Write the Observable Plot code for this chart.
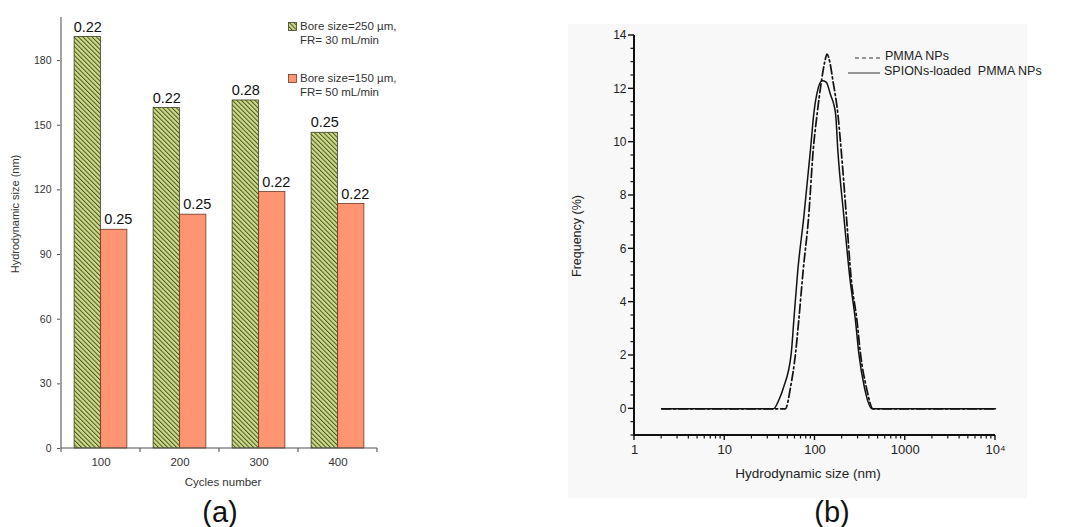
<!DOCTYPE html>
<html><head><meta charset="utf-8">
<script src="https://cdn.jsdelivr.net/npm/d3@7"></script>
<script src="https://cdn.jsdelivr.net/npm/@observablehq/plot@0.6"></script>
<style>
body{margin:0;background:#fff;font-family:"Liberation Sans",Arial,sans-serif;}
#wrap{position:relative;width:1068px;height:527px;overflow:hidden;background:#fff;}
.abs{position:absolute;white-space:nowrap;}
</style></head><body><div id="wrap"></div>
<script>
// ---------- Panel (a) data ----------
const cycles = [100, 200, 300, 400];
const sizeBore250 = [191, 158, 161.5, 146.5];
const sizeBore150 = [101.5, 108.5, 119, 113.5];
const pdiBore250 = ["0.22", "0.22", "0.28", "0.25"];
const pdiBore150 = ["0.25", "0.25", "0.22", "0.22"];
const yTicksA = [0, 30, 60, 90, 120, 150, 180];
const seriesA = ["Bore size=250 µm,|FR= 30 mL/min", "Bore size=150 µm,|FR= 50 mL/min"];

// ---------- Panel (b) data ----------
const pmmaSize = [2, 40, 47, 53.5, 60.8, 66, 74, 85, 95.5, 105.7, 118, 128, 136, 147, 158, 179, 195, 223, 251, 292, 319, 371, 441, 10000];
const pmmaFreq = [0, 0, 0, 0.8, 2.07, 3.3, 5.2, 7.2, 9.7, 11.07, 12.3, 13.0, 13.3, 12.95, 12.3, 11.07, 9.7, 7.2, 4.93, 3.3, 2.07, 0.8, 0, 0];
const spionSize = [2, 34.7, 40, 44.8, 54.5, 58.2, 64.5, 75.2, 89, 97, 108, 120, 133, 148, 169, 179, 209, 243, 281, 306, 353, 430, 10000];
const spionFreq = [0, 0, 0.35, 0.8, 2.07, 3.3, 5.2, 7.2, 9.7, 11.07, 12.0, 12.3, 12.25, 11.8, 11.07, 9.7, 7.2, 4.93, 3.3, 2.07, 0.8, 0, 0];
const xMajorB = [1, 10, 100, 1000, 10000];
const xMajorLabels = ["1", "10", "100", "1000", "10\u2074"];
const yMajorB = [0, 2, 4, 6, 8, 10, 12, 14];
const seriesB = ["PMMA NPs", "SPIONs-loaded  PMMA NPs"];

const FONT = "Liberation Sans, Arial, sans-serif";
const wrap = document.getElementById("wrap");

function addDiv(html, css) {
  const d = document.createElement("div");
  d.className = "abs";
  d.innerHTML = html;
  Object.assign(d.style, css);
  wrap.appendChild(d);
  return d;
}

// ================= Panel (a) =================
const rowsA = cycles.map((c, i) => ({c, g: sizeBore250[i], o: sizeBore150[i], gl: pdiBore250[i], ol: pdiBore150[i]}));
const bandW = (377 - 60) / cycles.length;
const barW = 26.5;
const outer = (bandW - 2 * barW) / 2;

function frameA(index, scales) {
  const x = scales.x, y = scales.y;
  const starts = cycles.map(c => x(c));
  const bw = starts[1] - starts[0];
  const edges = [...starts, starts[starts.length - 1] + bw];
  const g = d3.create("svg:g").attr("stroke", "#555").attr("stroke-width", 1.1);
  const y0 = y(0), yTop = y(200);
  g.append("line").attr("x1", edges[0]).attr("x2", edges[0]).attr("y1", yTop).attr("y2", y0);
  g.append("line").attr("x1", edges[0]).attr("x2", edges[edges.length - 1]).attr("y1", y0).attr("y2", y0);
  for (const e of edges) g.append("line").attr("x1", e).attr("x2", e).attr("y1", y0).attr("y2", y0 + 4);
  return g.node();
}

const svgA = Plot.plot({
  width: 540, height: 490,
  marginLeft: 60, marginRight: 163, marginTop: 17, marginBottom: 42,
  style: {fontFamily: FONT, fontSize: "11px", color: "#333", background: "transparent"},
  x: {type: "band", domain: cycles, padding: 0, label: null},
  y: {domain: [0, 200], label: null},
  marks: [
    Plot.barY(rowsA, {x: "c", y: "g", fill: "url(#hatchA)", stroke: "#3d3d20", strokeWidth: 0.8, insetLeft: outer, insetRight: bandW - outer - barW}),
    Plot.barY(rowsA, {x: "c", y: "o", fill: "#ff9472", stroke: "#6e3a22", strokeWidth: 0.8, insetLeft: outer + barW, insetRight: outer}),
    Plot.text(rowsA, {x: "c", y: "g", text: "gl", dx: -(barW / 2), dy: -10, fontSize: 14.5, fill: "#111"}),
    Plot.text(rowsA, {x: "c", y: "o", text: "ol", dx: barW / 2 + 4, dy: -10, fontSize: 14.5, fill: "#111"}),
    Plot.axisY({ticks: yTicksA, tickSize: 3, tickPadding: 6, stroke: "#555", fill: "#333", fontSize: 10.5, label: null}),
    Plot.axisX({tickSize: 0, tickPadding: 9, fill: "#333", fontSize: 11.5, label: null}),
    frameA
  ]
});
svgA.style.position = "absolute";
svgA.style.left = "0px";
svgA.style.top = "0px";
{
  const defs = d3.select(svgA).insert("defs", ":first-child");
  const s = 3.2;
  const pat = defs.append("pattern").attr("id", "hatchA").attr("patternUnits", "userSpaceOnUse")
    .attr("width", s).attr("height", s).attr("patternTransform", "rotate(-45)");
  pat.append("rect").attr("width", s).attr("height", s).attr("fill", "#cfdc86");
  pat.append("line").attr("x1", 0.5).attr("y1", 0).attr("x2", 0.5).attr("y2", s).attr("stroke", "#46522a").attr("stroke-width", 1.0);
}
wrap.appendChild(svgA);

addDiv("Hydrodynamic size (nm)", {left: "15px", top: "214px", fontSize: "11px", color: "#333", transform: "translate(-50%,-50%) rotate(-90deg)"});
addDiv("Cycles number", {left: "223px", top: "482px", fontSize: "11.5px", color: "#333", transform: "translate(-50%,-50%)"});
addDiv("(a)", {left: "220px", top: "512px", fontSize: "29px", color: "#111", transform: "translate(-50%,-50%)"});

// legend (a)
const swA = ['<svg width="9" height="9"><rect x="0.5" y="0.5" width="8" height="8" fill="url(#hatchA)" stroke="#3d3d20" stroke-width="0.8"/></svg>',
             '<svg width="9" height="9"><rect x="0.5" y="0.5" width="8" height="8" fill="#ff9472" stroke="#6e3a22" stroke-width="0.8"/></svg>'];
seriesA.forEach((s, i) => {
  const [l1, l2] = s.split("|");
  const top = i === 0 ? 19 : 71;
  addDiv(swA[i], {left: "288px", top: (top + 3) + "px", lineHeight: "0"});
  addDiv(l1 + "<br>" + l2, {left: "300px", top: top + "px", fontSize: "11.5px", lineHeight: "14px", color: "#333"});
});

// ================= Panel (b) =================
const pmma = pmmaSize.map((s, i) => ({s, f: pmmaFreq[i]}));
const spion = spionSize.map((s, i) => ({s, f: spionFreq[i]}));
const xMinorB = [];
for (let d = 1; d < 10000; d *= 10) for (let k = 2; k <= 9; k++) xMinorB.push(d * k);
const yMinorB = d3.range(-1, 14.001, 0.5).filter(v => !yMajorB.includes(v));

function panelBg() {
  return d3.create("svg:rect").attr("x", 28).attr("y", 24).attr("width", 459).attr("height", 474).attr("fill", "#f8f8f8").node();
}

function frameB(index, scales) {
  const x = scales.x, y = scales.y;
  const x0 = x(1), x1 = x(10000), y0 = y(-1), y1 = y(14);
  const g = d3.create("svg:g");
  const ln = (a, b, c, d, w) => g.append("line").attr("x1", a).attr("x2", b).attr("y1", c).attr("y2", d)
    .attr("stroke", "#111").attr("stroke-width", w);
  ln(x0, x0, y1, y0 + 1, 2);
  ln(x0 - 1, x1, y0, y0, 2);
  for (const v of yMajorB) ln(x0 - 6, x0, y(v), y(v), 1.4);
  for (const v of yMinorB) ln(x0 - 3.5, x0, y(v), y(v), 1.2);
  for (const v of xMajorB) ln(x(v), x(v), y0, y0 + 5, 1.4);
  for (const v of xMinorB) ln(x(v), x(v), y0, y0 + 3.5, 1.2);
  return g.node();
}

const svgB = Plot.plot({
  width: 528, height: 500,
  marginLeft: 94, marginRight: 73, marginTop: 35, marginBottom: 65,
  style: {fontFamily: FONT, fontSize: "12px", color: "#222", background: "transparent"},
  x: {type: "log", domain: [1, 10000], label: null},
  y: {domain: [-1, 14], label: null},
  marks: [
    panelBg,
    Plot.axisY({ticks: yMajorB, tickSize: 0, tickPadding: 8, fill: "#222", fontSize: 12, label: null}),
    Plot.axisX({ticks: xMajorB, tickFormat: d => xMajorLabels[xMajorB.indexOf(d)], tickSize: 0, tickPadding: 9, fill: "#222", fontSize: 13, label: null}),
    Plot.line(pmma, {x: "s", y: "f", stroke: "#111", strokeWidth: 1.7, strokeDasharray: "9,3,2,3", curve: "monotone-x"}),
    Plot.line(spion, {x: "s", y: "f", stroke: "#111", strokeWidth: 1.5, curve: "monotone-x"}),
    frameB
  ]
});
svgB.style.position = "absolute";
svgB.style.left = "540px";
svgB.style.top = "0px";
svgB.style.zIndex = "1";
wrap.appendChild(svgB);

const lblCss = {zIndex: "2"};
addDiv("Frequency (%)", {...lblCss, left: "577px", top: "236px", fontSize: "12.5px", color: "#222", transform: "translate(-50%,-50%) rotate(-90deg)"});
addDiv("Hydrodynamic size (nm)", {...lblCss, left: "808px", top: "473px", fontSize: "13.5px", color: "#222", transform: "translate(-50%,-50%)"});
addDiv("(b)", {...lblCss, left: "832px", top: "512px", fontSize: "29px", color: "#111", transform: "translate(-50%,-50%)"});

// legend (b)
addDiv('<svg width="34" height="4"><line x1="7" y1="2" x2="32" y2="2" stroke="#333" stroke-width="1" stroke-dasharray="4,3"/></svg>', {...lblCss, left: "848px", top: "55px", lineHeight: "0"});
addDiv('<svg width="34" height="4"><line x1="0" y1="2" x2="32" y2="2" stroke="#333" stroke-width="1"/></svg>', {...lblCss, left: "848px", top: "70px", lineHeight: "0"});
addDiv(seriesB[0], {...lblCss, left: "885px", top: "49px", fontSize: "12.5px", color: "#222", lineHeight: "15px"});
addDiv(seriesB[1].replace("  ", "&nbsp; "), {...lblCss, left: "884px", top: "64px", fontSize: "12.5px", color: "#222", lineHeight: "15px"});
</script></body></html>
